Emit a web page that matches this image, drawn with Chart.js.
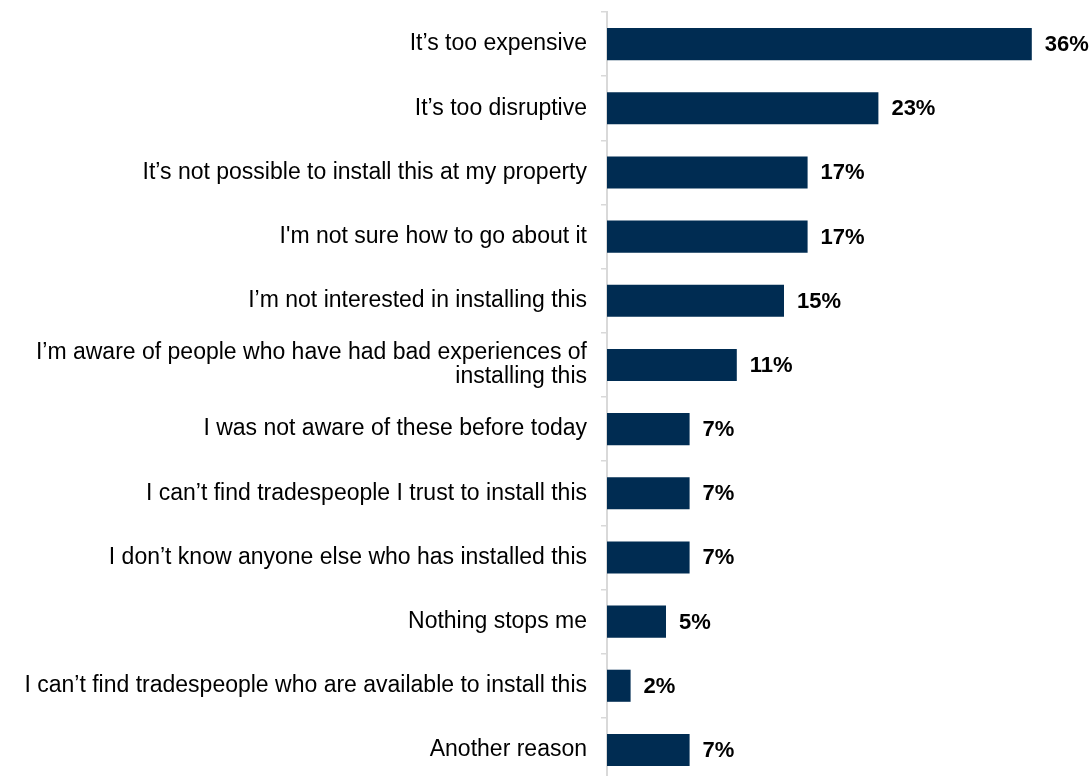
<!DOCTYPE html>
<html>
<head>
<meta charset="utf-8">
<script src="https://cdn.jsdelivr.net/npm/chart.js@4/dist/chart.umd.min.js"></script>
<style>
    html, body { margin: 0; padding: 0; background: #fff; overflow: hidden; }
    #wrap { position: relative; width: 1090px; height: 782px; }
</style>
</head>
<body>
<div id="wrap"><canvas id="reasons"></canvas></div>
<script>
// reasons people gave, most common first
const reasons = [
    "It’s too expensive",
    "It’s too disruptive",
    "It’s not possible to install this at my property",
    "I'm not sure how to go about it",
    "I’m not interested in installing this",
    ["I’m aware of people who have had bad experiences of", "installing this"],
    "I was not aware of these before today",
    "I can’t find tradespeople I trust to install this",
    "I don’t know anyone else who has installed this",
    "Nothing stops me",
    "I can’t find tradespeople who are available to install this",
    "Another reason"
];
const shares = [36, 23, 17, 17, 15, 11, 7, 7, 7, 5, 2, 7];

const barColor = '#002c52';
const axisGrey = '#d9d9d9';
const fontFamily = '"Liberation Sans", Arial, sans-serif';

// writes the percentage just past the end of each bar
const valueLabels = {
    id: 'valueLabels',
    afterDatasetsDraw(chart) {
        const ctx = chart.ctx;
        const meta = chart.getDatasetMeta(0);
        ctx.save();
        ctx.font = 'bold 22px ' + fontFamily;
        ctx.fillStyle = '#000';
        ctx.textAlign = 'left';
        ctx.textBaseline = 'middle';
        meta.data.forEach((bar, i) => {
            ctx.fillText(shares[i] + '%', bar.x + 13, bar.y + 1);
        });
        ctx.restore();
    }
};

document.addEventListener("DOMContentLoaded", function () {
    const ctx = document.getElementById('reasons').getContext('2d');
    new Chart(ctx, {
        type: 'bar',
        data: {
            labels: reasons,
            datasets: [{
                data: shares,
                backgroundColor: barColor,
                barPercentage: 0.5,
                categoryPercentage: 1.0
            }]
        },
        options: {
            indexAxis: 'y',
            responsive: true,
            maintainAspectRatio: false,
            animation: false,
            layout: { padding: { top: 12, right: 11, bottom: 0, left: 0 } },
            plugins: {
                legend: { display: false },
                tooltip: { enabled: false }
            },
            scales: {
                x: {
                    display: false,
                    min: 0,
                    max: 40
                },
                y: {
                    afterFit(scale) {
                        // fixed label column, no extra room above/below for label halves
                        scale.width = 607;
                        scale.paddingTop = 0;
                        scale.paddingBottom = 0;
                    },
                    border: { display: true, color: axisGrey, width: 2 },
                    grid: {
                        drawOnChartArea: false,
                        drawTicks: true,
                        tickLength: 6,
                        color: axisGrey,
                        lineWidth: 1.5
                    },
                    ticks: {
                        color: '#000',
                        padding: 14,
                        font: { family: fontFamily, size: 23, lineHeight: 1.05 },
                        autoSkip: false
                    }
                }
            }
        },
        plugins: [valueLabels]
    });
});
</script>
</body>
</html>
